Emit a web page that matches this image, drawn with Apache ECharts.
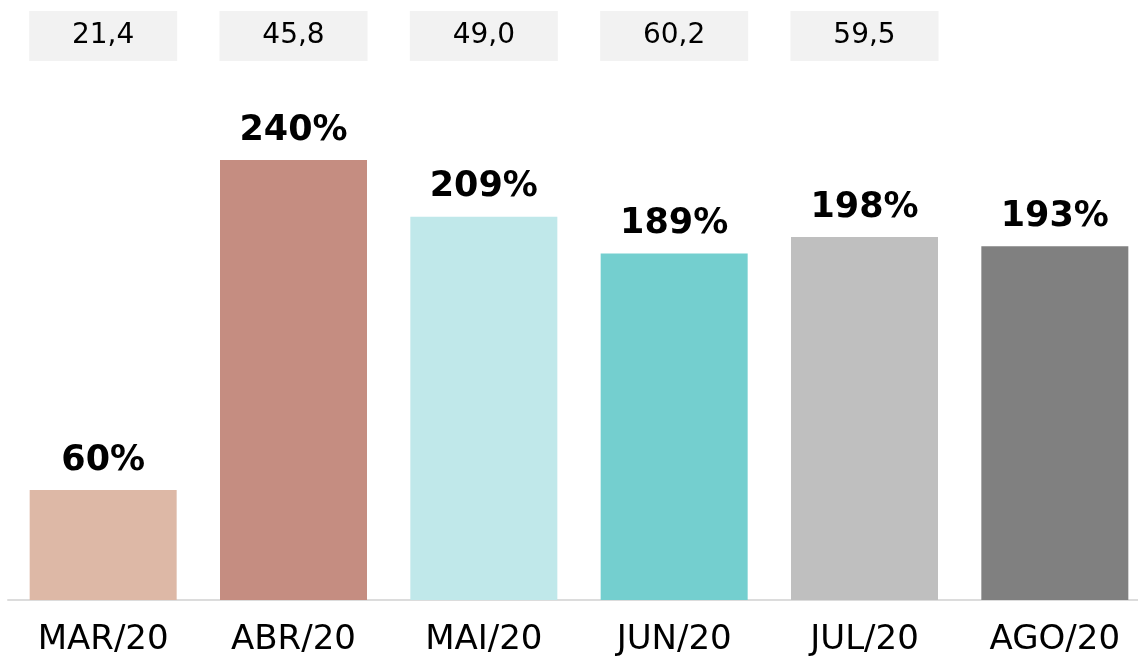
<!DOCTYPE html>
<html>
<head>
<meta charset="utf-8">
<script src="https://cdn.jsdelivr.net/npm/echarts@6/dist/echarts.min.js"></script>
<style>
html, body { margin: 0; padding: 0; background: #fff; }
#chart { width: 1138px; height: 656px; }
</style>
</head>
<body>
<div id="chart"></div>
<script>
// data
var categories = ['MAR/20', 'ABR/20', 'MAI/20', 'JUN/20', 'JUL/20', 'AGO/20'];
var percentValues = [60, 240, 209, 189, 198, 193];
var boxValues = [21.4, 45.8, 49.0, 60.2, 59.5];
var barColors = ['#ddb8a6', '#c58d81', '#c0e8ea', '#74cfcf', '#bfbfbf', '#808080'];

var chart = echarts.init(document.getElementById('chart'));

var fontName = 'DejaVu Sans';

var option = {
	backgroundColor: '#fff',
	animation: false,
	grid: [
		// main bars (wider than the canvas on the right, like the original)
		{ left: 8, width: 1142, top: 50, bottom: 56, outerBoundsMode: 'none' },
		// grey boxes on top
		{ left: 8, width: 1142, top: 11, height: 50, outerBoundsMode: 'none' }
	],
	xAxis: [{
		type: 'category',
		gridIndex: 0,
		data: categories,
		axisLine: {
			lineStyle: { color: '#dcdcdc', width: 2 }
		},
		axisTick: { show: false },
		axisLabel: {
			color: '#000',
			fontSize: 34,
			fontFamily: fontName,
			margin: 23
		}
	}, {
		type: 'category',
		gridIndex: 1,
		data: categories,
		show: false
	}],
	yAxis: [{
		type: 'value',
		gridIndex: 0,
		min: 0,
		max: 300,
		show: false,
		splitLine: { show: false }
	}, {
		type: 'category',
		gridIndex: 1,
		data: [''],
		show: false
	}],
	series: [{
		type: 'bar',
		xAxisIndex: 0,
		yAxisIndex: 0,
		barWidth: 147,
		data: percentValues.map(function(v, i) {
			return { value: v, itemStyle: { color: barColors[i] } };
		}),
		label: {
			show: true,
			position: 'top',
			distance: 12,
			formatter: '{c}%',
			color: '#000',
			fontSize: 35,
			fontWeight: 'bold',
			fontFamily: fontName
		}
	}, {
		type: 'scatter',
		xAxisIndex: 1,
		yAxisIndex: 1,
		symbol: 'rect',
		symbolSize: [148, 50],
		clip: false,
		itemStyle: { color: '#f2f2f2', opacity: 1 },
		data: boxValues.map(function(v, i) {
			return [i, 0, v];
		}),
		label: {
			show: true,
			position: 'inside',
			color: '#000',
			opacity: 1,
			fontSize: 28,
			fontFamily: fontName,
			formatter: function(p) {
				return p.value[2].toFixed(1).replace('.', ',');
			}
		}
	}]
};

chart.setOption(option);
</script>
</body>
</html>
